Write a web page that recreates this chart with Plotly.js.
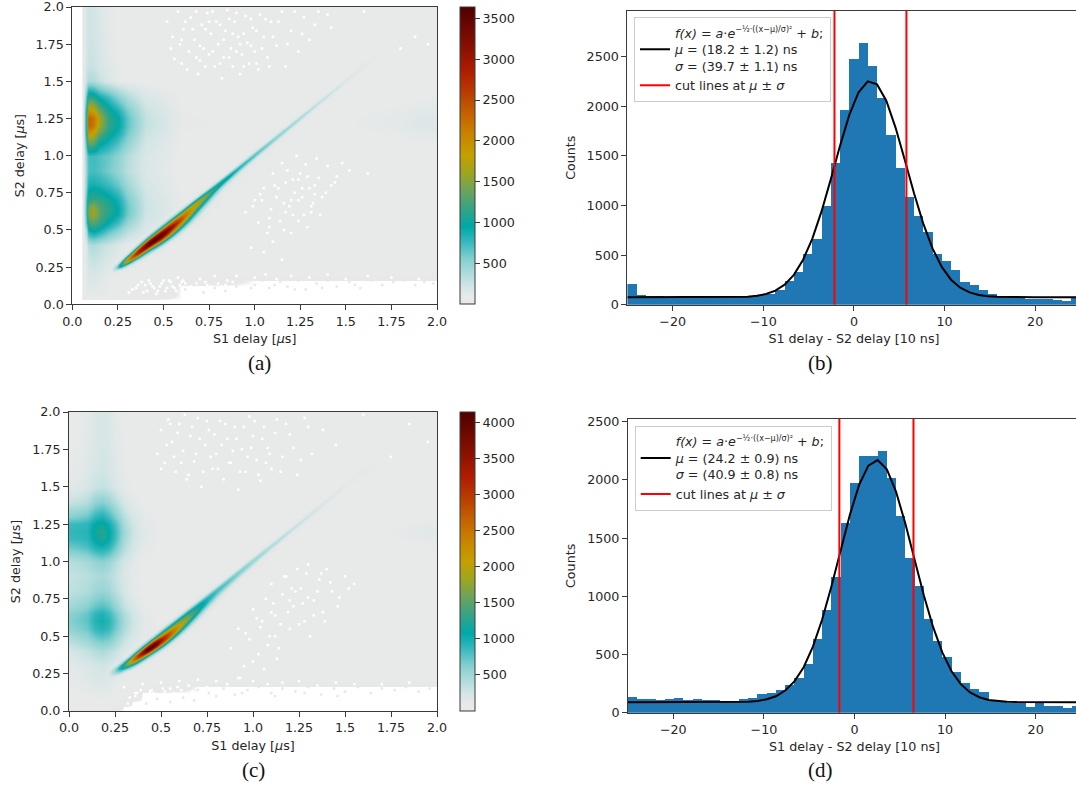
<!DOCTYPE html>
<html><head><meta charset="utf-8">
<script src="https://cdn.plot.ly/plotly-3.0.1.min.js"></script>
<style>html,body{margin:0;padding:0;background:#fff;overflow:hidden}</style>
</head><body><div id="chart"></div>
<script>
// ---------- histograms ----------
const binEdges=[-25,-23.98,-22.96,-21.94,-20.92,-19.9,-18.88,-17.86,-16.84,-15.82,-14.8,-13.78,-12.76,-11.73,-10.71,-9.69,-8.67,-7.65,-6.63,-5.61,-4.59,-3.57,-2.55,-1.53,-0.51,0.51,1.53,2.55,3.57,4.59,5.61,6.63,7.65,8.67,9.69,10.71,11.73,12.76,13.78,14.8,15.82,16.84,17.86,18.88,19.9,20.92,21.94,22.96,23.98,25];
const countsB=[208,97,84,87,80,80,70,75,75,75,78,80,85,90,97,107,150,238,333,507,658,995,1425,1962,2473,2634,2406,2087,1707,1381,1089,894,732,511,437,349,228,202,148,111,87,75,65,57,54,54,50,34,64];
const fitB=[75,75,75,75,75,75,75,75,75,75,75,75,78,81,90,108,142,202,301,454,667,943,1266,1604,1913,2142,2252,2221,2056,1786,1459,1124,818,568,381,252,172,124,98,85,80,77,76,75,75,75,75,75,75,75];
const cutB=[-2.15,5.79];
const countsD=[135,117,117,109,115,123,106,115,106,106,100,103,115,126,158,172,192,235,295,418,636,882,1163,1632,1973,2208,2208,2245,2013,1690,1332,1088,808,619,481,349,258,200,178,109,95,86,80,52,80,54,54,43,54];
const fitD=[89,89,89,89,89,89,89,89,89,89,89,89,91,94,101,115,141,190,269,391,568,801,1084,1394,1700,1957,2122,2170,2090,1897,1625,1315,1009,737,518,356,245,174,133,110,99,94,91,90,89,89,89,89,89,89];
const cutD=[-1.67,6.51];

// ---------- 2D maps: broad structure ----------
const mapAX=[0,.05,.06,.075,.09,.115,.15,.2,.25,.3,.4,.6,1,1.5,1.8,1.9,2];
const mapY=[0,.03,.06,.12,.16,.2,.3,.4,.5,.55,.6,.65,.7,.8,.9,1,1.1,1.15,1.2,1.25,1.3,1.4,1.5,1.6,1.8,2];
const mapA=[
[0,0,0,0,0,0,0,0,0,0,0,0,0,0,0,0,0],
[0,0,0,0,0,0,0,0,0,0,0,0,0,0,0,0,0],
[0,0,70,90,110,110,100,80,70,60,40,0,0,0,0,0,0],
[0,0,70,110,140,140,120,90,80,70,50,0,0,0,0,0,0],
[0,0,70,120,150,160,130,100,85,75,70,40,0,0,0,0,0],
[0,0,70,120,170,180,150,110,90,80,70,70,65,60,60,60,60],
[0,0,70,140,240,270,230,160,110,90,70,70,65,60,60,60,60],
[0,0,70,160,330,380,310,240,160,110,80,70,65,60,60,60,60],
[0,0,90,400,900,1000,900,700,520,340,160,75,65,60,60,60,60],
[0,0,110,650,1200,1300,1150,930,720,470,200,80,65,60,60,60,60],
[0,0,120,750,1450,1600,1300,1080,900,600,230,85,65,60,60,60,60],
[0,0,120,750,1450,1600,1300,1120,930,620,240,85,65,60,60,60,60],
[0,0,110,700,1150,1200,1150,1030,860,580,230,85,65,60,60,60,60],
[0,0,100,550,850,880,830,750,620,430,190,80,65,60,60,60,60],
[0,0,90,480,700,720,680,590,470,330,160,75,65,60,60,60,60],
[0,0,100,520,720,740,690,620,500,350,170,80,65,60,60,65,65],
[0,0,130,800,1500,1400,1050,900,720,510,210,85,70,65,80,90,90],
[0,0,140,950,1950,1800,1350,1050,860,600,250,90,75,75,100,125,130],
[0,0,150,1000,2300,2150,1600,1150,950,650,280,95,80,85,115,150,155],
[0,0,150,1000,2350,2200,1650,1150,950,650,280,95,80,85,115,150,155],
[0,0,140,950,1950,1850,1400,1050,830,580,250,90,75,75,100,125,130],
[0,0,110,650,1100,1050,850,700,500,340,170,80,65,60,70,80,80],
[0,0,90,280,380,360,280,170,100,80,70,65,60,60,60,60,60],
[0,0,80,220,260,250,190,130,90,70,65,65,60,60,60,60,60],
[0,0,80,190,230,220,170,110,80,70,65,65,60,60,60,60,60],
[0,0,80,190,230,210,150,100,80,70,65,65,60,60,60,60,60]];

const mapCX=[0,.05,.1,.14,.18,.22,.26,.3,.35,.4,.5,.7,1,1.5,1.8,1.9,2];
const mapC=[
[60,60,60,60,60,50,0,0,0,0,0,0,0,0,0,0,0],
[70,70,70,70,70,60,40,0,0,0,0,0,0,0,0,0,0],
[75,80,85,90,90,80,60,40,0,0,0,0,0,0,0,0,0],
[90,100,110,130,130,110,85,70,50,0,0,0,0,0,0,0,0],
[100,110,130,150,160,140,100,80,70,60,40,0,0,0,0,0,0],
[110,130,150,180,190,160,120,90,70,70,65,65,60,55,55,55,55],
[130,160,190,230,250,210,150,110,80,70,65,65,60,55,55,55,55],
[220,270,320,390,430,380,280,180,110,85,70,65,60,55,55,55,55],
[450,510,580,720,780,720,520,340,210,130,85,70,60,55,55,55,55],
[560,620,690,870,920,850,640,420,240,140,85,70,60,55,55,55,55],
[620,680,750,930,1000,900,680,450,260,150,85,70,60,55,55,55,55],
[600,650,730,900,960,850,640,420,240,130,80,70,60,55,55,55,55],
[480,530,600,720,770,700,500,320,190,115,80,70,60,55,55,55,55],
[340,370,410,500,540,480,340,220,130,95,75,65,60,55,55,55,55],
[310,340,370,420,450,400,290,200,120,90,75,65,60,55,55,55,55],
[380,410,460,540,580,510,350,230,140,100,75,70,60,55,60,65,65],
[700,740,800,950,1000,900,640,400,220,140,85,75,70,65,80,90,90],
[850,870,900,1100,1220,1050,750,470,260,150,90,80,75,75,100,120,125],
[880,900,930,1150,1280,1080,780,490,270,160,90,85,80,85,110,140,145],
[850,870,900,1080,1150,1000,730,450,250,150,90,80,75,75,100,120,125],
[620,660,720,900,960,830,590,370,210,130,85,75,70,65,80,90,90],
[300,330,400,560,620,530,350,210,130,95,75,65,60,55,60,65,65],
[150,170,210,290,320,280,190,130,95,80,70,65,60,55,55,55,55],
[120,130,170,230,260,220,150,110,85,75,70,65,60,55,55,55,55],
[90,100,140,190,220,190,130,95,80,70,65,65,60,55,55,55,55],
[80,90,130,180,210,180,120,90,75,70,65,65,60,55,55,55,55]];

// ---------- 2D maps: diagonal ridge, along (x+y)/2 and across (y-x) ----------
const ridgeAcross=[-.2,-.14,-.11,-.09,-.07,-.05,-.03,-.015,0,.015,.03,.05,.07,.1,.16];
const ridgeAlongA=[.22,.24,.27,.3,.34,.38,.42,.46,.5,.55,.6,.65,.7,.75,.8,.9,1,1.1,1.2,1.35,1.5,1.65,1.8];
const ridgeA=[
[0,0,0,0,0,40,80,120,150,120,90,50,0,0,0],
[0,0,0,0,50,90,160,300,450,300,140,70,0,0,0],
[0,0,0,50,100,200,600,1300,1100,500,150,80,40,0,0],
[0,0,50,90,160,400,1300,2000,1700,800,250,100,50,0,0],
[0,40,80,150,300,900,2300,2700,2200,1100,350,120,60,0,0],
[0,60,100,220,550,1400,2800,3200,2700,1500,500,150,70,0,0],
[0,70,150,400,1000,2100,3400,3600,3000,1700,650,180,80,40,0],
[40,80,220,650,1500,2800,3600,3500,2800,1600,700,200,85,50,0],
[50,90,300,800,1700,2800,3400,3200,2500,1500,650,200,85,50,0],
[50,90,300,750,1500,2300,2900,2700,2200,1350,600,180,80,50,0],
[50,90,250,550,1100,1800,2300,2200,1900,1200,500,150,80,50,0],
[40,80,170,330,650,1200,1800,1900,1800,1150,420,130,75,0,0],
[40,70,110,180,350,750,1300,1600,1600,1000,350,110,70,0,0],
[40,70,90,120,200,420,850,1250,1300,780,250,100,70,0,0],
[0,60,80,100,130,230,500,950,1100,650,190,90,60,0,0],
[0,50,70,80,90,120,260,600,880,500,140,80,50,0,0],
[0,0,50,70,80,90,160,420,720,400,120,70,40,0,0],
[0,0,0,50,70,80,130,320,580,320,100,70,0,0,0],
[0,0,0,0,50,70,110,240,470,240,90,60,0,0,0],
[0,0,0,0,0,55,90,170,320,170,85,50,0,0,0],
[0,0,0,0,0,0,70,120,210,120,70,0,0,0,0],
[0,0,0,0,0,0,60,90,140,90,60,0,0,0,0],
[0,0,0,0,0,0,0,0,0,0,0,0,0,0,0]];
const ridgeAlongC=[.22,.25,.28,.31,.34,.38,.42,.46,.5,.55,.6,.65,.7,.75,.8,.9,1,1.1,1.2,1.35,1.5,1.65,1.8];
const ridgeC=[
[0,0,0,0,0,0,60,90,110,110,100,70,0,0,0],
[0,0,0,0,40,90,180,300,420,450,380,200,80,0,0],
[0,0,0,50,90,180,450,800,950,900,500,200,80,0,0],
[0,0,50,90,170,450,1000,1500,1600,1100,500,170,80,0,0],
[0,0,80,130,300,900,1800,2300,2200,1300,500,170,80,0,0],
[0,40,100,200,550,1500,2800,3300,2800,1500,600,180,80,0,0],
[0,50,120,330,900,2400,3900,4100,3000,1600,650,200,80,40,0],
[0,60,170,500,1300,3000,4000,3700,2700,1500,620,200,85,40,0],
[40,70,200,600,1500,2900,3200,2800,2100,1250,550,190,85,50,0],
[40,70,200,580,1300,2300,2500,2200,1700,1100,520,170,80,50,0],
[40,70,170,430,950,1700,2000,1800,1500,1000,450,150,80,40,0],
[40,70,120,280,620,1150,1550,1500,1300,900,400,130,75,0,0],
[0,60,90,170,370,750,1150,1200,1100,800,340,120,70,0,0],
[0,50,80,110,220,460,800,950,950,700,280,110,65,0,0],
[0,40,70,90,140,280,550,780,850,620,230,95,60,0,0],
[0,0,60,80,90,140,320,560,700,480,160,80,50,0,0],
[0,0,50,70,80,100,190,390,560,390,130,70,40,0,0],
[0,0,0,50,70,80,140,280,450,280,110,70,0,0,0],
[0,0,0,0,50,70,110,220,360,220,95,60,0,0,0],
[0,0,0,0,0,55,90,160,260,160,85,50,0,0,0],
[0,0,0,0,0,0,70,110,180,110,70,0,0,0,0],
[0,0,0,0,0,0,60,85,120,85,60,0,0,0,0],
[0,0,0,0,0,0,0,0,0,0,0,0,0,0,0]];

// ---------- empty cells (below the colour floor) ----------
const emptyAX=[.52,.54,.55,.58,.6,.61,.64,.65,.67,.69,.7,.71,.72,.74,.75,.76,.78,.79,.8,.82,.83,.84,.85,.87,.88,.89,.91,.92,.93,.95,.96,.97,.99,1,1.02,1.03,1.05,1.07,1.09,1.12,1.15,1.17,1.2,1.24,1.27,1.3,1.35,1.42,1.6,1.8,1.88,1.95,.95,1,1.02,1.05,1.07,1.09,1.1,1.12,1.14,1.15,1.17,1.19,1.2,1.22,1.23,1.25,1.27,1.28,1.3,1.32,1.34,1.35,1.37,1.4,1.42,1.45,1.48,1.52,1.62,1.05,1.1,.98,1.15,.4,.45,.5,.55,.58,.62,.66,.7,.74,.78,.82,.85,.9,.95,1,1.06,1.12,1.2,1.3,1.4,1.5,1.62,1.75,1.9];
const emptyAY=[1.9,1.72,1.8,1.97,1.62,1.85,1.7,1.93,1.78,1.55,1.64,1.88,1.72,1.96,1.68,1.82,1.6,1.9,1.75,1.52,1.66,1.84,1.98,1.72,1.6,1.9,1.8,1.55,1.68,1.94,1.76,1.62,1.86,1.7,1.58,1.95,1.8,1.66,1.9,1.74,1.97,1.6,1.84,1.7,1.93,1.78,1.97,1.86,1.97,1.72,1.8,1.75,.62,.7,.55,.78,.48,.64,.88,.72,.56,.95,.82,.66,.48,.75,1,.88,.6,.94,.78,.68,.98,.85,.72,.93,.8,.86,.95,.9,.88,.35,.42,.38,.3,.13,.11,.16,.12,.18,.14,.1,.17,.13,.19,.12,.16,.19,.15,.18,.2,.17,.19,.18,.2,.17,.19,.18,.17];
const moreAX=[.56,.59,.62,.63,.66,.68,.7,.73,.73,.77,.77,.81,.81,.83,.86,.86,.9,.9,.94,.94,.98,.98,1.01,1.01,1.04,1.06,1.08,1.1,1.13,1.18,1.22,1.26,1.33,1.4,.6,.68,.75,.88,.92,.99,1.03,1.08,1.11,1.16,1.18,1.21,1.24,1.26,1.29,1.31,1.33,1.36,1.39,1.44,.33,.36,.39,.42,.44,.47,.49,.52,.54,.57,.59,.61,.63,.65,.68,.71,.73,.76,.8,.84,.88,.31,.35,.38,.41,.43,.46,.48,.51,.53,.56,.6,1.13,1.17,1.21,1.24,1.26,1.29,1.33,1.04,1.08,1.16,1.2,1.24,1.31];
const moreAY=[1.65,1.75,1.9,1.58,1.85,1.97,1.74,1.6,1.85,1.7,1.97,1.62,1.88,1.78,1.66,1.92,1.7,1.96,1.6,1.82,1.74,1.92,1.62,1.84,1.72,1.92,1.6,1.8,1.9,1.75,1.97,1.82,1.88,1.95,1.78,1.66,1.9,1.82,1.75,.66,.74,.58,.8,.68,.9,.6,.84,.72,.52,.66,.8,.6,.75,.82,.1,.13,.08,.16,.12,.09,.14,.11,.15,.09,.13,.16,.1,.12,.14,.11,.15,.12,.14,.13,.15,.08,.11,.15,.09,.14,.07,.12,.09,.16,.11,.15,.78,.62,.84,.7,.78,.86,.74,.7,.52,.5,.7,.56,.62];
const specksAX=[.95,1,1.04,1.08,1.14,1.18,1.24,1.28,1.34,1.4,1.45,1.52,1.58,1.64,1.7,1.76,1.82,1.88,1.93,1.98,.98,1.11,1.22,1.37,1.55,.62,.67,.72,.78,.84,.9];
const specksAY=[.15,.13,.16,.11,.15,.12,.16,.1,.14,.16,.12,.15,.11,.16,.13,.15,.16,.13,.15,.14,.11,.13,.1,.11,.13,.1,.13,.08,.11,.09,.12];
const emptyCX=[.48,.5,.52,.54,.56,.58,.6,.62,.64,.66,.68,.7,.72,.74,.76,.78,.8,.82,.84,.86,.88,.9,.92,.94,.96,.98,1,1.02,1.04,1.06,1.08,1.1,1.13,1.16,1.2,1.24,1.28,1.32,1.38,1.45,1.6,1.75,1.85,1.95,.88,.92,.95,.98,1,1.03,1.05,1.07,1.09,1.1,1.12,1.14,1.16,1.18,1.2,1.22,1.24,1.26,1.28,1.3,1.33,1.36,1.38,1.4,1.43,1.46,1.5,1.55,.93,1,1.06,1.13,.3,.36,.4,.45,.5,.55,.6,.65,.7,.75,.8,.86,.92,1,1.08,1.16,1.25,1.35,1.45,1.55,1.7,1.85];
const emptyCY=[1.72,1.88,1.66,1.95,1.8,1.6,1.92,1.74,1.55,1.84,1.67,1.96,1.5,1.78,1.88,1.62,1.72,1.94,1.55,1.82,1.66,1.9,1.48,1.75,1.6,1.97,1.84,1.68,1.54,1.9,1.76,1.62,1.95,1.7,1.85,1.58,1.96,1.72,1.88,1.78,1.98,1.7,1.92,1.8,.42,.55,.3,.48,.68,.38,.6,.75,.5,.85,.64,.42,.78,.9,.55,.7,.95,.82,.6,.98,.74,.88,.66,.95,.8,.7,.9,.85,.22,.33,.28,.35,.16,.12,.18,.14,.19,.15,.2,.17,.21,.16,.2,.18,.22,.2,.18,.19,.2,.17,.19,.18,.18,.19];
const moreCX=[.5,.53,.55,.57,.59,.61,.63,.65,.67,.69,.71,.73,.75,.77,.79,.81,.83,.85,.87,.89,.91,.93,.95,.97,.99,1.01,1.03,1.05,1.07,1.09,1.12,1.15,1.18,1.22,1.26,1.3,.96,1.02,1.08,1.11,1.15,1.19,1.23,1.27,1.31,1.35,1.39,1.42,1.47,1.52,.33,.37,.41,.44,.47,.51,.54,.57,.61,.64,.67,.71,.74,.78,.82,.85,.89,.32,.36,.39,.43,.46,.49,.52,.56,.59,1.12,1.17,1.21,1.25,1.29,1.33,1.37,1.04,1.1,1.2,1.3];
const moreCY=[1.62,1.78,1.92,1.7,1.86,1.66,1.98,1.58,1.9,1.72,1.82,1.6,1.94,1.7,1.85,1.62,1.78,1.92,1.66,1.74,1.82,1.6,1.9,1.7,1.76,1.94,1.58,1.82,1.66,1.72,1.86,1.6,1.92,1.76,1.68,1.9,.52,.62,.44,.72,.58,.66,.8,.72,.5,.8,.6,.86,.76,.82,.09,.12,.07,.13,.1,.15,.08,.12,.14,.1,.13,.09,.15,.12,.14,.1,.13,.05,.1,.14,.08,.12,.06,.13,.09,.16,.5,.9,.82,.58,.92,.64,.92,.56,.66,.74,.76];
const specksCX=[.7,.76,.84,.9,.97,1.03,1.1,1.16,1.23,1.3,1.37,1.44,1.5,1.57,1.64,1.7,1.77,1.83,1.9,1.96,.8,.94,1.12,1.28,1.46,.42,.48,.55,.62,.68];
const specksCY=[.14,.12,.15,.11,.14,.16,.12,.15,.13,.16,.11,.15,.13,.16,.12,.15,.14,.16,.13,.15,.1,.12,.1,.12,.1,.05,.08,.06,.09,.07];

// ---------- text and ticks ----------
const mapTicks=[0,.25,.5,.75,1,1.25,1.5,1.75,2];
const mapTickText=['0.0','0.25','0.5','0.75','1.0','1.25','1.5','1.75','2.0'];
const barTicksA=[500,1000,1500,2000,2500,3000,3500];
const barTicksC=[500,1000,1500,2000,2500,3000,3500,4000];
const exponent='<sup><span style="font-size:8px">−½·((x−μ)/σ)²</span></sup>';
const legendB='<i>f(x)</i> = <i>a</i>·<i>e</i>'+exponent+' + <i>b</i>;<br><i>μ</i> = (18.2 ± 1.2) ns<br><i>σ</i> = (39.7 ± 1.1) ns';
const legendD='<i>f(x)</i> = <i>a</i>·<i>e</i>'+exponent+' + <i>b</i>;<br><i>μ</i> = (24.2 ± 0.9) ns<br><i>σ</i> = (40.9 ± 0.8) ns';
const legendCut='cut lines at <i>μ</i> ± <i>σ</i>';

// ---------- drawing ----------
const W=1100,H=790,FONT='"DejaVu Sans"',INK='#262626',SP='#3a3a3a';
const stops=[[.0015,'#e8e8e8'],[.024,'#e8e9e9'],[.06,'#d2e5e5'],[.15,'#86d0d0'],[.21,'#35b8bc'],[.26,'#00a8a8'],[.33,'#3da37f'],[.38,'#6ba35e'],[.44,'#9ea520'],[.5,'#c4a000'],[.57,'#c88400'],[.64,'#c46200'],[.71,'#b93e00'],[.78,'#b01e00'],[.87,'#861000'],[1,'#500000']];
const mapScale=[[0,'#ffffff'],...stops];
const ridgeScale=[[0,'rgba(232,232,232,0)'],[.02,'rgba(232,232,232,0)'],[.03,'rgba(228,232,232,0.6)'],...stops.slice(2)];

function dx(a,b){return [a/W,b/W];}
function dy(top,bot){return [(H-bot)/H,(H-top)/H];}
const axisBase={showgrid:false,zeroline:false,showline:true,mirror:true,linecolor:SP,linewidth:1,ticks:'outside',ticklen:5,tickwidth:1,tickcolor:SP,ticklabeloverflow:'allow',tickfont:{family:FONT,size:12.7,color:INK}};
const titleFont={family:FONT,size:12.7,color:INK};
function mapAxis(d,anchor,title,standoff){return {...axisBase,domain:d,anchor,range:[0,2],tickmode:'array',tickvals:mapTicks,ticktext:mapTickText,title:{text:title,font:titleFont,standoff}};}

function ridgeTraces(id,xa,ya,along,table,top){
  const xs=ridgeAcross.map(v=>along.map(u=>u-v/2));
  const ys=ridgeAcross.map(v=>along.map(u=>u+v/2));
  const z=ridgeAcross.map((v,j)=>along.map((u,i)=>table[i][j]));
  const ax={startline:false,endline:false,showgrid:false,minorgridcount:0,showticklabels:'none',smoothing:0,tickmode:'array',tickvals:[],showline:false};
  return [
    {type:'carpet',carpet:id,a:along,b:ridgeAcross,x:xs,y:ys,xaxis:xa,yaxis:ya,aaxis:ax,baxis:ax,hoverinfo:'skip'},
    {type:'contourcarpet',carpet:id,a:along,b:ridgeAcross,z,xaxis:xa,yaxis:ya,autocontour:false,
     contours:{start:25,end:top,size:50,coloring:'fill',showlines:false},line:{width:0},colorscale:ridgeScale,showscale:false,hoverinfo:'skip'}
  ];
}
function dots(xa,ya,x,y,color){return {type:'scatter',mode:'markers',x,y,xaxis:xa,yaxis:ya,marker:{symbol:'square',size:2.5,color,line:{width:0}},showlegend:false,hoverinfo:'skip'};}
function mapTraces(xa,ya,X,Z,zmax,ticks,barTop,id,along,table,speck){
  return [
    {type:'heatmap',x:X,y:mapY,z:Z,xaxis:xa,yaxis:ya,zmin:0,zmax,zsmooth:'best',colorscale:mapScale,hoverinfo:'skip',
     colorbar:{x:460/W,xanchor:'left',xpad:0,ypad:0,thickness:15,thicknessmode:'pixels',len:barTop[1]-barTop[0],lenmode:'pixels',y:(H-barTop[0])/H,yanchor:'top',
       tickmode:'array',tickvals:ticks,ticks:'outside',ticklen:5,tickwidth:1,tickcolor:SP,outlinecolor:SP,outlinewidth:1,tickfont:{family:FONT,size:12.7,color:INK}}},
    ...ridgeTraces(id,xa,ya,along,table,zmax),
    dots(xa,ya,speck[0],speck[1],'#ffffff'),
    dots(xa,ya,speck[2],speck[3],'#ffffff'),
    dots(xa,ya,speck[4],speck[5],'#e8e8e8')
  ];
}
function histTraces(xa,ya,counts,fit,cut,top,name,lg){
  const centers=counts.map((c,i)=>(binEdges[i]+binEdges[i+1])/2);
  const widths=counts.map((c,i)=>binEdges[i+1]-binEdges[i]);
  return [
    {type:'bar',x:centers,y:counts,width:widths,xaxis:xa,yaxis:ya,marker:{color:'#1f77b4',line:{width:0}},showlegend:false,hoverinfo:'skip'},
    {type:'scatter',mode:'lines',x:binEdges,y:fit,xaxis:xa,yaxis:ya,line:{color:'#000000',width:2},name,legend:lg,hoverinfo:'skip'},
    {type:'scatter',mode:'lines',x:[cut[0],cut[0],null,cut[1],cut[1]],y:[0,top,null,0,top],xaxis:xa,yaxis:ya,line:{color:'#ff0000',width:2},name:legendCut,legend:lg,hoverinfo:'skip'}
  ];
}
function histAxes(dxv,dyv,anchorX,anchorY,top){
  return [
    {...axisBase,domain:dxv,anchor:anchorY,range:[-25,25],tickmode:'array',tickvals:[-20,-10,0,10,20],title:{text:'S1 delay - S2 delay [10 ns]',font:titleFont,standoff:6}},
    {...axisBase,domain:dyv,anchor:anchorX,range:[0,top],tickmode:'array',tickvals:[0,500,1000,1500,2000,2500],title:{text:'Counts',font:titleFont,standoff:8}}
  ];
}
const data=[
  ...mapTraces('x','y',mapAX,mapA,3640,barTicksA,[7,304],'ridgeA',ridgeAlongA,ridgeA,[emptyAX,emptyAY,moreAX,moreAY,specksAX,specksAY]),
  ...histTraces('x2','y2',countsB,fitB,cutB,2964,legendB,'legend'),
  ...mapTraces('x3','y3',mapCX,mapC,4140,barTicksC,[412,711],'ridgeC',ridgeAlongC,ridgeC,[emptyCX,emptyCY,moreCX,moreCY,specksCX,specksCY]),
  ...histTraces('x4','y4',countsD,fitD,cutD,2523,legendD,'legend2')
];
const [xB,yB]=histAxes(dx(627.4,1080.5),dy(10.7,304.7),'x2','y2',2964);
const [xD,yD]=histAxes(dx(628,1081),dy(419,712.7),'x4','y4',2523);
const legendBase={xanchor:'left',yanchor:'top',bgcolor:'rgba(255,255,255,0.8)',bordercolor:'#cccccc',borderwidth:1,font:{family:FONT,size:12.7,color:INK},itemwidth:30,tracegroupgap:0};
const cap=(t,x,y)=>({text:t,xref:'paper',yref:'paper',x:x/W,y:(H-y)/H,xanchor:'center',yanchor:'middle',showarrow:false,font:{family:'"Liberation Serif"',size:21,color:'#111'}});
const layout={
  width:W,height:H,margin:{l:0,r:0,t:0,b:0,pad:0},paper_bgcolor:'#fff',plot_bgcolor:'#fff',showlegend:true,bargap:0,
  xaxis:mapAxis(dx(72.3,437),'y','S1 delay [<i>μ</i>s]',6),
  yaxis:mapAxis(dy(7,304.3),'x','S2 delay [<i>μ</i>s]',8),
  xaxis2:xB,yaxis2:yB,
  xaxis3:mapAxis(dx(69,437),'y3','S1 delay [<i>μ</i>s]',6),
  yaxis3:mapAxis(dy(412,711),'x3','S2 delay [<i>μ</i>s]',8),
  xaxis4:xD,yaxis4:yD,
  legend:{...legendBase,x:634/W,y:(H-17)/H},
  legend2:{...legendBase,x:634.7/W,y:(H-425.7)/H},
  annotations:[cap('(a)',259,363),cap('(b)',820,363),cap('(c)',253,770),cap('(d)',820,770)]
};
Plotly.newPlot('chart',data,layout,{displayModeBar:false,staticPlot:true}).then(()=>{
  document.querySelectorAll('svg text').forEach(t=>{if(!t.textContent.trim())t.remove();});
});
</script></body></html>
